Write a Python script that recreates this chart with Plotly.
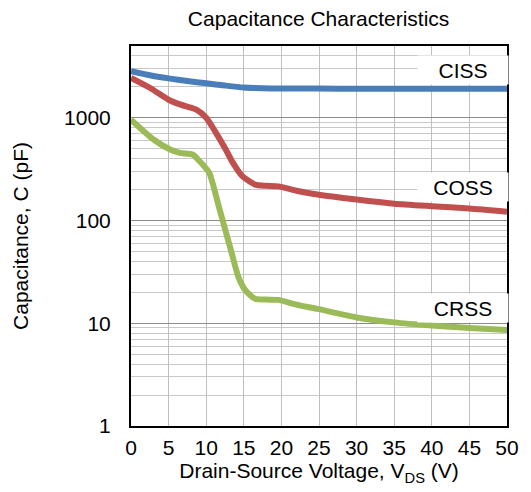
import plotly.graph_objects as go

# Data
ciss_v = [0, 2.5, 5, 7.5, 10, 12.5, 15, 17.5, 20, 25, 30, 35, 40, 45, 50]
ciss_c = [2850, 2600, 2420, 2280, 2170, 2060, 1970, 1940, 1930, 1925, 1920, 1920, 1915, 1915, 1915]

coss_v = [0, 2.5, 5, 6.5, 8.7, 10, 11.3, 12.6, 13.5, 14.8, 16.5, 18, 19.6, 22, 24.8, 30, 35, 40, 45, 50]
coss_c = [2450, 1960, 1500, 1350, 1200, 1000, 714, 491, 370, 270, 224, 218, 215, 195, 179, 160, 146, 138, 131, 122]

crss_v = [0, 3, 5.2, 6.5, 8.2, 9.1, 10.4, 11.7, 13.3, 14.3, 15.2, 16.5, 18, 19.6, 22, 24.8, 30, 35, 40, 45, 50]
crss_c = [960, 615, 491, 455, 440, 380, 291, 135, 51, 28, 21, 17.3, 17, 16.9, 15.2, 13.8, 11.4, 10.2, 9.5, 9.0, 8.6]

x_ticks = [0, 5, 10, 15, 20, 25, 30, 35, 40, 45, 50]
y_ticks = [1, 10, 100, 1000]

series_labels = ["CISS", "COSS", "CRSS"]
label_v = [44.1, 44.1, 44.1]
label_logc = [3.463, 2.330, 1.153]

font = "Liberation Sans, Arial, sans-serif"

fig = go.Figure()
for v, c, col in [(ciss_v, ciss_c, "#4A7EBB"), (coss_v, coss_c, "#C0504D"), (crss_v, crss_c, "#9BBB59")]:
    fig.add_trace(go.Scatter(x=v, y=c, mode="lines",
                             line=dict(color=col, width=6, shape="spline", smoothing=0.6),
                             showlegend=False, hoverinfo="skip"))

for txt, xv, yv in zip(series_labels, label_v, label_logc):
    fig.add_annotation(x=xv, y=yv, text=txt, showarrow=False, bgcolor="white",
                       width=90, height=28, borderpad=0,
                       font=dict(family=font, size=21, color="black"))

fig.update_layout(
    width=531, height=492,
    margin=dict(l=131, r=19, t=46, b=66),
    paper_bgcolor="white", plot_bgcolor="white",
    title=dict(text="Capacitance Characteristics", x=0.6, xanchor="center", y=0.963, yanchor="middle",
               font=dict(family=font, size=21, color="black")),
    font=dict(family=font, color="black"),
)
fig.update_xaxes(range=[0, 50], tickvals=x_ticks, ticktext=[str(t) for t in x_ticks],
                 showgrid=True, gridcolor="#BFBFBF", gridwidth=1,
                 showline=True, linecolor="black", linewidth=2, mirror=True,
                 ticks="", ticklabelstandoff=2, zeroline=False,
                 tickfont=dict(family=font, size=21, color="black"),
                 title=dict(text="Drain-Source Voltage, V<sub>DS</sub> (V)", standoff=2,
                            font=dict(family=font, size=21, color="black")))
fig.update_yaxes(type="log", range=[0, 3.699], tickvals=y_ticks, ticktext=[str(t) for t in y_ticks],
                 showgrid=True, gridcolor="#8C8C8C", gridwidth=1,
                 minor=dict(dtick="D1", showgrid=True, gridcolor="#C8C8C8", gridwidth=1, ticks=""),
                 showline=True, linecolor="black", linewidth=2, mirror=True,
                 ticks="", ticklabelstandoff=14, zeroline=False,
                 tickfont=dict(family=font, size=21, color="black"),
                 title=dict(text="Capacitance, C (pF)", standoff=30,
                            font=dict(family=font, size=21, color="black")))

fig.write_html("out.html", config={"displayModeBar": False},
               post_script="document.body.style.margin='0';")
